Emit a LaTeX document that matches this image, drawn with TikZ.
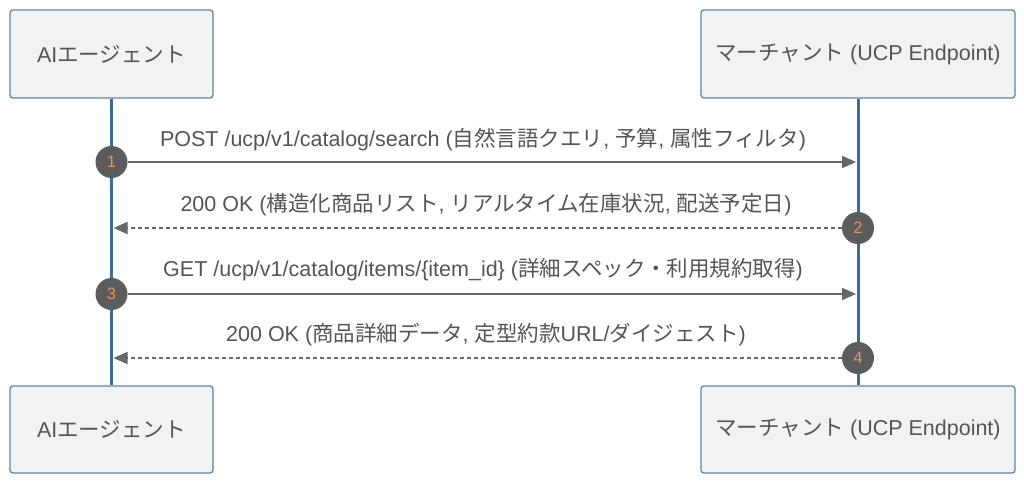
\documentclass[tikz,border=0pt]{standalone}
\usepackage{fontspec}
\setmainfont{Liberation Sans}
\newfontfamily\jp{Noto Sans CJK JP}
\usetikzlibrary{arrows.meta}
\definecolor{boxfill}{HTML}{F2F2F2}
\definecolor{boxline}{HTML}{5A86A8}
\definecolor{life}{HTML}{3B6C94}
\definecolor{txt}{HTML}{555555}
\definecolor{arr}{HTML}{666666}
\definecolor{badgebg}{HTML}{5C5C5C}
\definecolor{badgetxt}{HTML}{E0956A}
\begin{document}
\begin{tikzpicture}[x=1pt,y=-1pt,
 actor/.style={draw=boxline, line width=1.3pt, fill=boxfill, rounded corners=3pt, minimum height=88pt, text=txt, font=\fontsize{21.5}{24}\selectfont, inner sep=0pt},
 lifeline/.style={draw=life, line width=3pt},
 badge/.style={circle, fill=badgebg, minimum size=32pt, inner sep=0pt, text=badgetxt, font=\fontsize{16.5}{18}\selectfont},
 msg/.style={draw=arr, line width=1.8pt, -{Triangle[length=14pt,width=12pt]}},
 reply/.style={msg, dash pattern=on 4pt off 3pt},
 lbl/.style={text=txt, font=\fontsize{21.5}{24}\selectfont, inner sep=0pt, anchor=base}]
\fill[white] (0,0) rectangle (1024,484);
\useasboundingbox (0,0) rectangle (1024,484);

\node[actor, minimum width=203pt] (aTop) at (111.5,54) {AI{\jp エージェント}};
\node[actor, minimum width=314pt] (mTop) at (858,54) {{\jp マーチャント} (UCP Endpoint)};
\node[actor, minimum width=203pt, minimum height=87pt] (aBot) at (111.5,429.5) {AI{\jp エージェント}};
\node[actor, minimum width=314pt, minimum height=87pt] (mBot) at (858,429.5) {{\jp マーチャント} (UCP Endpoint)};

\draw[lifeline] (aTop.south) -- (aBot.north);
\draw[lifeline] (mTop.south) -- (mBot.north);

\node[badge] (c1) at (111.5,162) {1};
\node[badge] (c2) at (858,228) {2};
\node[badge] (c3) at (111.5,294) {3};
\node[badge] (c4) at (858,358) {4};

\coordinate (e1) at (856,162);
\coordinate (e2) at (113.5,228);
\coordinate (e3) at (856,294);
\coordinate (e4) at (113.5,358);

\draw[msg] (c1) -- (e1);
\draw[reply] (c2) -- (e2);
\draw[msg] (c3) -- (e3);
\draw[reply] (c4) -- (e4);

\node[lbl] (l1) at (483,146) {POST /ucp/v1/catalog/search ({\jp 自然言語クエリ}, {\jp 予算}, {\jp 属性フィルタ})};
\node[lbl] (l2) at (486,211.5) {200 OK ({\jp 構造化商品リスト}, {\jp リアルタイム在庫状況}, {\jp 配送予定日})};
\node[lbl] (l3) at (483,276.5) {GET /ucp/v1/catalog/items/\{item\_id\} ({\jp 詳細スペック・利用規約取得})};
\node[lbl] (l4) at (486,341.5) {200 OK ({\jp 商品詳細データ}, {\jp 定型約款}URL/{\jp ダイジェスト})};
\end{tikzpicture}
\end{document}
